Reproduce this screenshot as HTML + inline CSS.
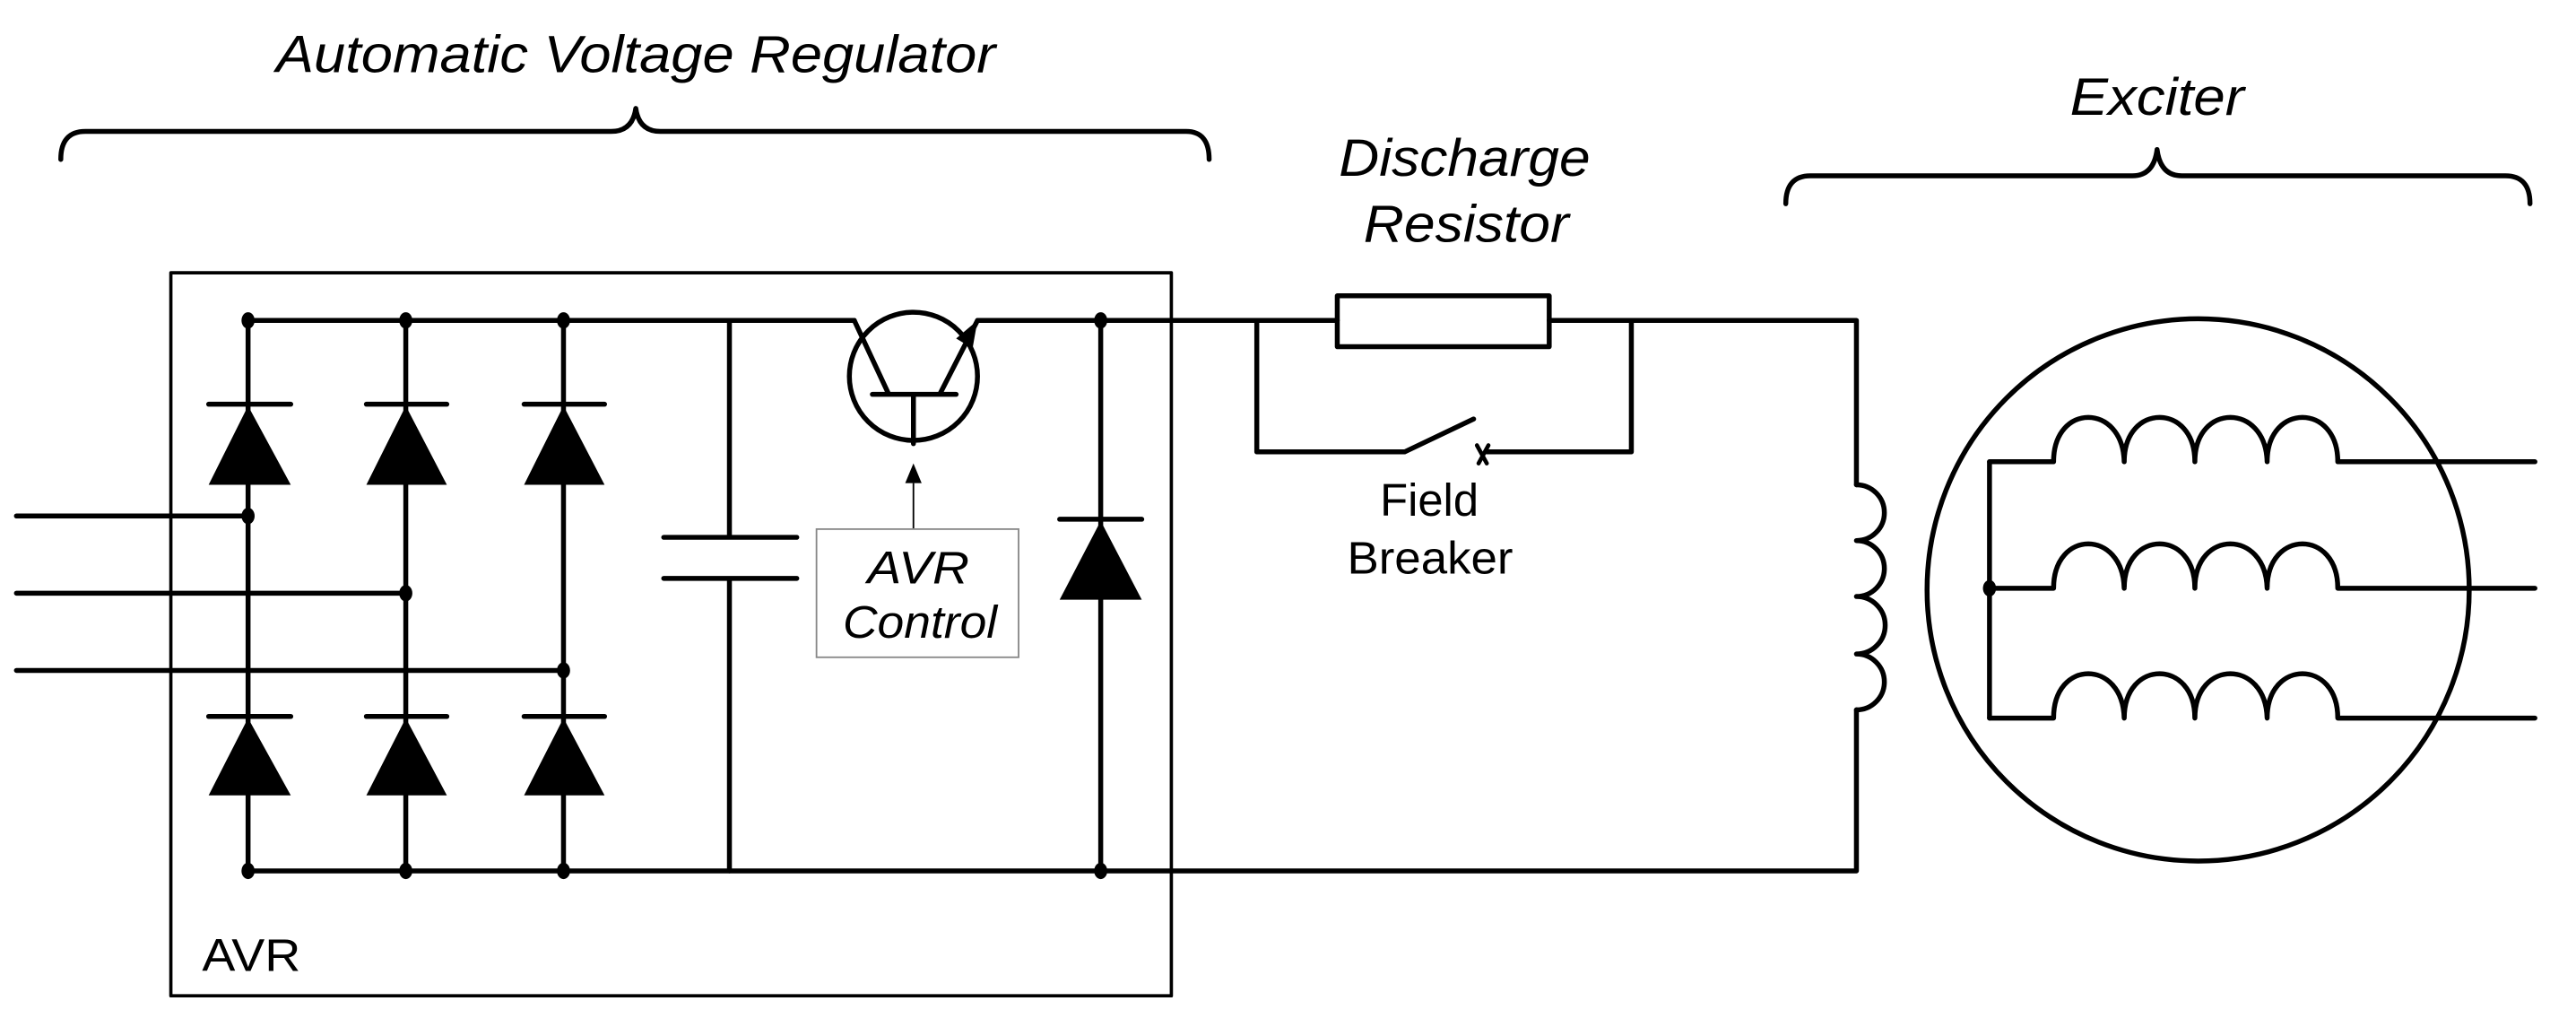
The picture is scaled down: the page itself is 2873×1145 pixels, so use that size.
<!DOCTYPE html>
<html><head><meta charset="utf-8"><style>html,body{margin:0;padding:0;background:#fff}svg{display:block}</style></head>
<body>
<svg width="2873" height="1145" viewBox="0 0 1568 625" preserveAspectRatio="none" xmlns="http://www.w3.org/2000/svg">
<g fill="none" stroke="#000" stroke-width="3" stroke-linecap="round" stroke-linejoin="round">
<path d="M37,97 Q37,80 52,80 L372,80 Q385,80 387,66 Q389,80 402,80 L722,80 Q736,80 736,97"/>
<path d="M1087,124 Q1087,107 1102,107 L1298,107 Q1311,107 1313,91 Q1315,107 1328,107 L1525,107 Q1540,107 1540,124"/>
<rect x="104" y="166" width="609" height="440" stroke-width="2"/>
<path d="M151,195 H520"/>
<path d="M595,195 H814"/>
<path d="M943,195 H1130 V295"/>
<path d="M1130,432 V530 H151"/>
<path d="M151,195 V530 M247,195 V530 M343,195 V530"/>
<path d="M127,246 H177 M223,246 H272 M319,246 H368"/>
<path d="M127,436 H177 M223,436 H272 M319,436 H368"/>
<path d="M10,314 H151 M10,361 H247 M10,408 H343"/>
<path d="M444,195 V327 M444,352 V530 M404,327 H485 M404,352 H485"/>
<path d="M670,195 V530 M645,316 H695"/>
<circle cx="556" cy="229" r="39"/>
<path d="M520,195 L541,240 M531,240 H582 M572,240 L595,195 M556,240 V270"/>
<rect x="814" y="180" width="129" height="31"/>
<path d="M765,195 V275 H855 L897,255 M905,275 H993 V195"/>
<path d="M899,271 L905,282 M906,271 L900,282" stroke-width="2.5"/>
<path d="M1130,295 A17,17 0 0 1 1130,329 A17,17 0 0 1 1130,363 A17,17 0 0 1 1130,398 A17,17 0 0 1 1130,432"/>
<circle cx="1338" cy="359" r="165"/>
<path d="M1211,281 V437"/>
<path d="M1211,281 H1250 C1250,245 1292,245 1293,281 C1293,245 1336,245 1336,281 C1336,245 1379,245 1380,281 C1380,245 1423,245 1423,281 H1543"/>
<path d="M1211,358 H1250 C1250,322 1292,322 1293,358 C1293,322 1336,322 1336,358 C1336,322 1379,322 1380,358 C1380,322 1423,322 1423,358 H1543"/>
<path d="M1211,437 H1250 C1250,401 1292,401 1293,437 C1293,401 1336,401 1336,437 C1336,401 1379,401 1380,437 C1380,401 1423,401 1423,437 H1543"/>
</g>
<g fill="#000" stroke="none">
<path d="M151,247 L127,295 H177Z M247,247 L223,295 H272Z M343,247 L319,295 H368Z"/>
<path d="M151,437 L127,484 H177Z M247,437 L223,484 H272Z M343,437 L319,484 H368Z"/>
<path d="M670,317 L645,365 H695Z"/>
<path d="M595,195 L582,206 L592,212Z"/>
<path d="M556,282 L551,294 H561Z"/>
<ellipse cx="151" cy="195" rx="4" ry="5"/><ellipse cx="247" cy="195" rx="4" ry="5"/><ellipse cx="343" cy="195" rx="4" ry="5"/>
<ellipse cx="151" cy="530" rx="4" ry="5"/><ellipse cx="247" cy="530" rx="4" ry="5"/><ellipse cx="343" cy="530" rx="4" ry="5"/>
<ellipse cx="151" cy="314" rx="4" ry="5"/><ellipse cx="247" cy="361" rx="4" ry="5"/><ellipse cx="343" cy="408" rx="4" ry="5"/>
<ellipse cx="670" cy="195" rx="4" ry="5"/><ellipse cx="670" cy="530" rx="4" ry="5"/><ellipse cx="1211" cy="358" rx="4" ry="5"/>
</g>
<path d="M556,294 V322" stroke="#000" stroke-width="1"/>
<rect x="497" y="322" width="123" height="78" fill="#fff" stroke="#888" stroke-width="1"/>
<g font-family="Liberation Sans, sans-serif" fill="#000">
<text x="168" y="44" font-size="32" font-style="italic" textLength="438" lengthAdjust="spacingAndGlyphs">Automatic Voltage Regulator</text>
<text x="815" y="107" font-size="32" font-style="italic" textLength="153" lengthAdjust="spacingAndGlyphs">Discharge</text>
<text x="830" y="147" font-size="32" font-style="italic" textLength="125" lengthAdjust="spacingAndGlyphs">Resistor</text>
<text x="1260" y="70" font-size="32" font-style="italic" textLength="106" lengthAdjust="spacingAndGlyphs">Exciter</text>
<text x="528" y="355" font-size="28" font-style="italic" textLength="62" lengthAdjust="spacingAndGlyphs">AVR</text>
<text x="513" y="388" font-size="28" font-style="italic" textLength="94" lengthAdjust="spacingAndGlyphs">Control</text>
<text x="840" y="314" font-size="28" textLength="60" lengthAdjust="spacingAndGlyphs">Field</text>
<text x="820" y="349" font-size="28" textLength="101" lengthAdjust="spacingAndGlyphs">Breaker</text>
<text x="123" y="591" font-size="28" textLength="60" lengthAdjust="spacingAndGlyphs">AVR</text>
</g>
</svg>
</body></html>
